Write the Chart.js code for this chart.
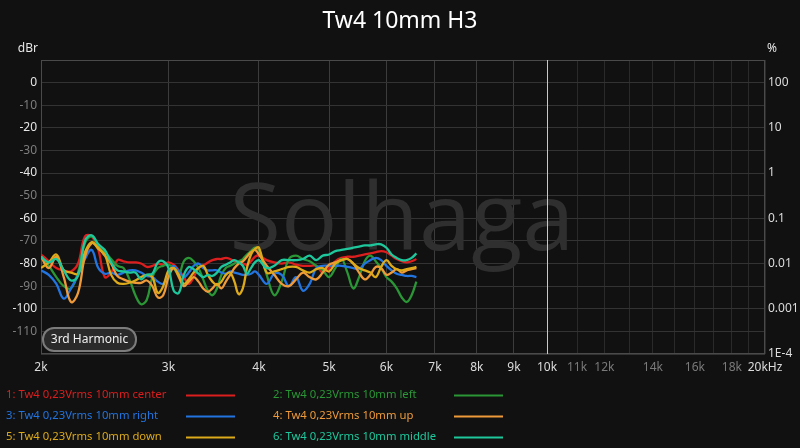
<!DOCTYPE html>
<html>
<head>
<meta charset="utf-8">
<title>Tw4 10mm H3</title>
<script src="https://cdn.jsdelivr.net/npm/chart.js@4.4.0/dist/chart.umd.min.js"></script>
<style>
  html, body { margin: 0; padding: 0; background: #111111; }
  canvas { display: block; }
</style>
</head>
<body>
<canvas id="chart" width="800" height="448"></canvas>
<script>
// frequency points (Hz) shared by all six measurements
const freqs = [
  2000, 2050, 2100, 2150, 2200, 2250, 2300, 2350, 2400, 2450,
  2500, 2550, 2600, 2650, 2700, 2750, 2800, 2850, 2900, 2950,
  3000, 3050, 3100, 3150, 3200, 3250, 3300, 3350, 3400, 3450,
  3500, 3550, 3600, 3650, 3700, 3750, 3800, 3850, 3900, 3950,
  4000,
  4100, 4200, 4300, 4400, 4500, 4600, 4700, 4800, 4900, 5000,
  5100, 5200, 5300, 5400, 5500, 5600, 5700, 5800, 5900, 6000,
  6100, 6200, 6300, 6400, 6500, 6600
];

// H3 level in dBr
const center = [
  -76, -79, -82, -83, -83.5, -80, -68, -68, -74, -86,
  -84, -78.5, -79, -79.5, -79.5, -80, -81.5, -81, -80, -80.5,
  -79.5, -80.5, -83, -86, -89, -86, -82, -81, -79.5, -78.5,
  -78, -78, -77.5, -78, -79, -79.5, -80, -80.5, -79, -77,
  -76.5,
  -78.5, -79.5, -80, -79.5, -80.5, -81, -81, -81, -84, -82,
  -79, -77.5, -77, -77, -76.5, -76, -75.5, -75, -74.5, -75,
  -76.5, -78, -79, -79.5, -79, -78
];
const left = [
  -77, -81, -86, -90, -91, -84, -71, -68, -72, -75,
  -78, -81, -82, -87, -94, -98, -96, -86, -82, -81,
  -80.5, -82, -85, -79, -77.5, -79, -82, -87, -92, -94,
  -91, -85, -82, -81, -80, -79, -78, -76, -74.5, -73,
  -74,
  -85, -94, -88, -78, -76.5, -78, -79, -81, -83, -86,
  -82, -78, -84, -91, -86, -79, -76.5, -79, -82, -86,
  -88, -91, -95, -97, -94, -88
];
const right = [
  -83, -85, -89, -95.5, -91, -85, -78, -74, -82, -84.5,
  -84, -85, -84, -83, -83, -84, -85.5, -86, -88, -89,
  -84, -81, -83.5, -86, -84, -81, -80, -82, -83, -83,
  -83, -84, -84.5, -83.5, -84, -84.5, -85, -85, -84.5, -83.5,
  -85,
  -89, -84.5, -85, -90, -86, -92, -89, -82, -81, -81,
  -81, -81, -81.5, -82, -82.5, -80, -78.5, -77.5, -78.5, -81,
  -83, -84.5, -85, -85.5, -85.5, -86
];
const up = [
  -77, -82, -77, -86, -97, -93, -77, -71, -73, -76.5,
  -80, -85.5, -87, -88, -88.5, -88.5, -87.5, -90, -95, -94,
  -86, -82, -86, -90, -88, -86, -88, -91, -92.5, -91,
  -89, -91, -88, -85, -82, -80, -79, -77, -75, -74,
  -76,
  -81, -85, -89, -90, -87, -84, -86, -87, -84, -80.5,
  -79.5, -78.5, -78, -80, -84, -87, -85, -81.5, -82, -85,
  -84, -82.5, -84, -83, -82.5, -82
];
const down = [
  -82, -79.5, -76, -83, -84, -84.5, -75, -70.5, -73.5, -76,
  -85, -88.5, -89, -88.5, -87.5, -86, -85, -86, -93, -90,
  -83, -82, -85, -89, -87, -84, -82, -81, -85, -88,
  -89.5, -88, -85, -84, -88, -93.5, -91, -82, -76, -73.5,
  -73,
  -84, -83.5, -82.5, -81.5, -81.5, -83, -84, -82.5, -82, -83.5,
  -80, -78.5, -78, -80, -82, -83, -84, -86, -81.5, -78.5,
  -81, -82.5, -83, -82.5, -82, -81.5
];
const middle = [
  -77, -79.5, -78, -83, -87.5, -85.5, -70, -67.5, -71.5, -74,
  -79.5, -83, -83.5, -84, -84, -87, -85, -84.5, -79.5, -79,
  -82, -92, -93, -85, -81.5, -82.5, -84.5, -86, -85, -85.5,
  -84, -81.5, -80.5, -79.5, -78.5, -79.5, -81, -84.5, -82, -79.5,
  -78.5,
  -82, -81, -78.5, -78.5, -78.5, -78, -76.5, -78.5, -76.5, -76,
  -74.5, -74, -73.5, -73, -72.5, -72, -72, -71.5, -71.5, -73,
  -76, -77.5, -78.5, -78.5, -77.5, -75.5
];

const seriesNames = [
  "1: Tw4 0,23Vrms 10mm center",
  "2: Tw4 0,23Vrms 10mm left",
  "3: Tw4 0,23Vrms 10mm right",
  "4: Tw4 0,23Vrms 10mm up",
  "5: Tw4 0,23Vrms 10mm down",
  "6: Tw4 0,23Vrms 10mm middle"
];
const seriesColors = ["#dc1e1e", "#2a9636", "#2274e0", "#ee9a3a", "#dcaa1a", "#1ec89c"];

const xTickValues = [2000, 3000, 4000, 5000, 6000, 7000, 8000, 9000, 10000,
  11000, 12000, 13000, 14000, 15000, 16000, 17000, 18000, 19000, 20000];
const xTickLabels = ["2k", "3k", "4k", "5k", "6k", "7k", "8k", "9k", "10k",
  "11k", "12k", "", "14k", "", "16k", "", "18k", "", "20kHz"];

const pctTickValues = [0, -20, -40, -60, -80, -100, -120];
const pctTickLabels = ["100", "10", "1", "0.1", "0.01", "0.001", "1E-4"];

const FONT = "'Noto Sans', 'DejaVu Sans', sans-serif";

function pts(arr) {
  return freqs.map((f, i) => ({ x: f, y: arr[i] }));
}

const allSeries = [center, left, right, up, down, middle];
const datasets = allSeries.map((arr, i) => ({
  label: seriesNames[i],
  data: pts(arr),
  borderColor: seriesColors[i],
  borderWidth: 2.3,
  pointRadius: 0,
  tension: 0.4,
  fill: false,
  order: 6 - i
}));

// extra drawing: background, watermark, border, axis units, badge and legend
const extras = {
  id: "extras",
  beforeDraw(chart) {
    const c = chart.ctx;
    c.save();
    c.fillStyle = "#111111";
    c.fillRect(0, 0, chart.width, chart.height);
    c.restore();
  },
  beforeDatasetsDraw(chart) {
    const c = chart.ctx;
    const a = chart.chartArea;
    const xs = chart.scales.x;
    c.save();
    // watermark
    c.fillStyle = "#2f2f2f";
    c.font = "400 94px 'Open Sans', sans-serif";
    c.textAlign = "center";
    c.textBaseline = "alphabetic";
    c.fillText("Solhaga", 402, 250);
    // plot frame
    c.strokeStyle = "#4a4a4a";
    c.lineWidth = 1;
    c.strokeRect(a.left + 0.5, a.top + 0.5, a.right - a.left - 1, a.bottom - a.top - 1);
    // cursor at 10 kHz
    const cx = Math.round(xs.getPixelForValue(10000)) + 0.5;
    c.strokeStyle = "#c8c8c8";
    c.beginPath();
    c.moveTo(cx, a.top);
    c.lineTo(cx, a.bottom);
    c.stroke();
    c.restore();
  },
  afterDraw(chart) {
    const c = chart.ctx;
    const a = chart.chartArea;
    c.save();
    c.font = "12px " + FONT;
    c.textBaseline = "middle";
    c.fillStyle = "#e6e6e6";
    c.textAlign = "right";
    c.fillText("dBr", a.left - 3, 49);
    c.textAlign = "left";
    c.fillText("%", a.right + 2, 49);

    // "3rd Harmonic" badge
    const bx = 43, by = 328, bw = 93, bh = 23, r = 11;
    c.beginPath();
    c.moveTo(bx + r, by);
    c.arcTo(bx + bw, by, bx + bw, by + bh, r);
    c.arcTo(bx + bw, by + bh, bx, by + bh, r);
    c.arcTo(bx, by + bh, bx, by, r);
    c.arcTo(bx, by, bx + bw, by, r);
    c.closePath();
    c.fillStyle = "#2a2a2a";
    c.fill();
    c.lineWidth = 2;
    c.strokeStyle = "#7c7c7c";
    c.stroke();
    c.fillStyle = "#f0f0f0";
    c.textAlign = "center";
    c.fillText("3rd Harmonic", bx + bw / 2, by + bh / 2 + 0.5);

    // legend, two columns
    const rowsY = [395, 415.5, 436.5];
    c.font = "11.3px " + FONT;
    c.textAlign = "left";
    chart.data.datasets.forEach((ds, i) => {
      const col = i % 2;
      const y = rowsY[Math.floor(i / 2)];
      const tx = col ? 273 : 6;
      const lx = col ? 454 : 186;
      c.fillStyle = ds.borderColor;
      c.fillText(ds.label, tx, y);
      c.strokeStyle = ds.borderColor;
      c.lineWidth = 2;
      c.beginPath();
      c.moveTo(lx, Math.round(y) + 0.5);
      c.lineTo(lx + 49, Math.round(y) + 0.5);
      c.stroke();
    });
    c.restore();
  }
};

const ctx = document.getElementById("chart").getContext("2d");
new Chart(ctx, {
  type: "line",
  data: { datasets: datasets },
  options: {
    responsive: false,
    animation: false,
    devicePixelRatio: 1,
    layout: { padding: 0 },
    plugins: {
      legend: { display: false },
      tooltip: { enabled: false },
      title: {
        display: true,
        text: "Tw4 10mm H3",
        color: "#ffffff",
        font: { family: FONT, size: 23, weight: "normal" },
        padding: { top: 8, bottom: 24.4 }
      }
    },
    scales: {
      x: {
        type: "logarithmic",
        min: 2000,
        max: 20000,
        afterBuildTicks: s => { s.ticks = xTickValues.map(v => ({ value: v })); },
        afterFit: s => { s.height = 94; },
        border: { display: false },
        grid: {
          drawTicks: false,
          color: c => (c.tick && c.tick.value <= 10000 ? "#3c3c3c" : "#2a2a2a")
        },
        ticks: {
          autoSkip: false,
          maxRotation: 0,
          padding: 6,
          font: { family: FONT, size: 12 },
          color: c => (c.tick && c.tick.value > 10000 && c.tick.value < 20000 ? "#7a7a7a" : "#dcdcdc"),
          callback: v => xTickLabels[xTickValues.indexOf(v)]
        }
      },
      y: {
        position: "left",
        min: -120,
        max: 10,
        afterFit: s => { s.width = 41; },
        border: { display: false },
        grid: {
          drawTicks: false,
          color: c => (c.tick && c.tick.value % 10 === 0 ? "#333333" : "#262626")
        },
        ticks: {
          stepSize: 5,
          padding: 4,
          font: { family: FONT, size: 12 },
          color: c => (c.tick && c.tick.value % 20 === 0 ? "#e6e6e6" : "#7e7e7e"),
          callback: v => (v % 10 === 0 && v <= 0 && v >= -110 ? String(v) : "")
        }
      },
      y2: {
        position: "right",
        min: -120,
        max: 10,
        afterBuildTicks: s => { s.ticks = pctTickValues.map(v => ({ value: v })); },
        afterFit: s => { s.width = 35; },
        border: { display: false },
        grid: { display: false, drawTicks: false },
        ticks: {
          padding: 3,
          font: { family: FONT, size: 12 },
          color: "#dcdcdc",
          callback: v => pctTickLabels[pctTickValues.indexOf(v)]
        }
      }
    }
  },
  plugins: [extras]
});
</script>
</body>
</html>
